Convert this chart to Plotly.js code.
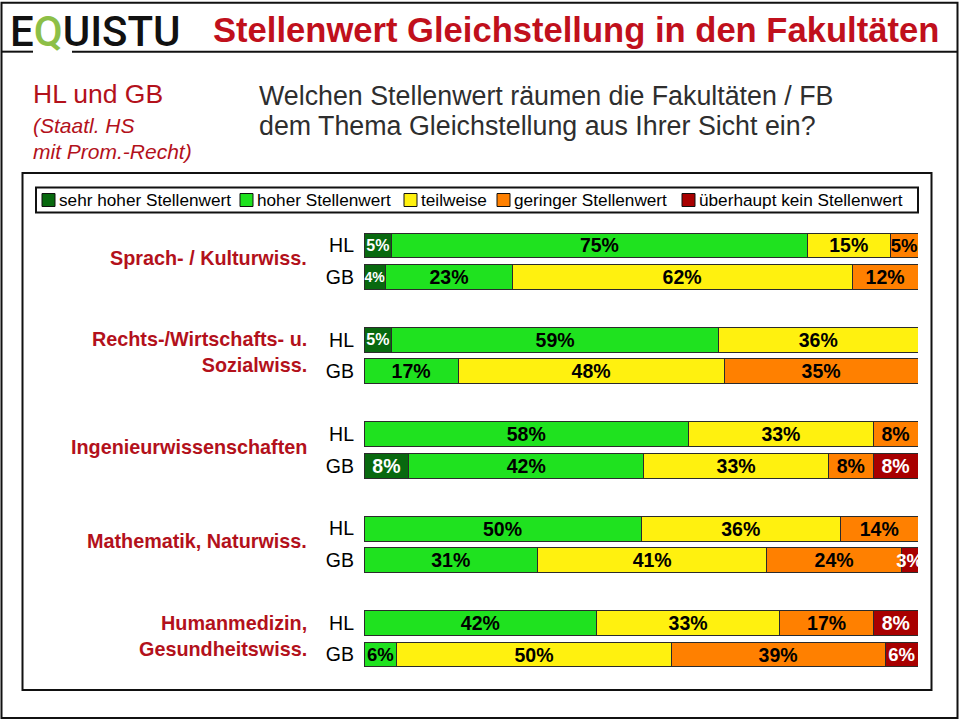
<!DOCTYPE html>
<html><head><meta charset="utf-8">
<script src="https://cdn.plot.ly/plotly-3.0.1.min.js"></script>
<style>html,body{margin:0;padding:0;background:#fff}#chart{width:960px;height:721px}</style>
</head><body><div id="chart"></div>
<script>
// ---------- data ----------
const faculties = ["Sprach- / Kulturwiss.", "Rechts-/Wirtschafts- u.<br>Sozialwiss.", "Ingenieurwissenschaften", "Mathematik, Naturwiss.", "Humanmedizin,<br>Gesundheitswiss."];
const groups = ["HL", "GB"];
const seriesNames = ["sehr hoher Stellenwert", "hoher Stellenwert", "teilweise", "geringer Stellenwert", "überhaupt kein Stellenwert"];
// order of rows: faculty 1 HL, faculty 1 GB, faculty 2 HL, ...
const sehrHoch  = [5, 4,   5, 0,   0, 8,   0, 0,   0, 0];
const hoch      = [75, 23, 59, 17, 58, 42, 50, 31, 42, 6];
const teilweise = [15, 62, 36, 48, 33, 33, 36, 41, 33, 50];
const gering    = [5, 12,  0, 35,  8, 8,  14, 24, 17, 39];
const keiner    = [0, 0,   0, 0,   0, 8,   0, 3,   8, 6];

// ---------- style ----------
const colors = ["#08690f", "#1fe21f", "#fff10f", "#ff8000", "#a80000"];
const textColors = ["#ffffff", "#000000", "#000000", "#000000", "#ffffff"];
const red = "#b3111b";
const FONT = "Liberation Sans, Arial, Helvetica, sans-serif";

const W = 960, H = 721;
const ml = 364, mr = 42, mt = 213.5, mb = 35;
const pw = W - ml - mr, ph = H - mt - mb;
const px = x => (x - ml) / pw;
const py = y => 1 - (y - mt) / ph;

const nRows = hoch.length;
const rowPos = [];
const rowLab = [];
for (let i = 0; i < nRows; i++) {
  rowPos.push(Math.floor(i / 2) * 3 + (i % 2));
  rowLab.push(groups[i % 2]);
}

const allSeries = [sehrHoch, hoch, teilweise, gering, keiner];
const traces = allSeries.map((vals, k) => ({
  type: "bar",
  orientation: "h",
  name: seriesNames[k],
  x: vals,
  y: rowPos,
  text: vals.map(v => v ? v + "%" : ""),
  textposition: "inside",
  insidetextanchor: "middle",
  constraintext: "none",
  textangle: 0,
  textfont: {
    family: FONT,
    color: textColors[k],
    size: vals.map(v => (k === 0 && v <= 5) ? (v < 5 ? 14 : 16) : (v <= 6 ? 18.5 : 19.5)),
    weight: "bold"
  },
  marker: { color: colors[k], line: { color: "#2b2b2b", width: 1 } },
  showlegend: false,
  hovertemplate: "%{text}<extra>" + seriesNames[k] + "</extra>"
}));

const shapes = [];
const annotations = [];

// frames
shapes.push({ type: "rect", xref: "paper", yref: "paper", x0: px(1.5), x1: px(957.5), y0: py(2), y1: py(718), line: { color: "#111", width: 2 } });
shapes.push({ type: "line", xref: "paper", yref: "paper", x0: px(1.5), x1: px(33), y0: py(51), y1: py(51), line: { color: "#111", width: 2 } });
shapes.push({ type: "line", xref: "paper", yref: "paper", x0: px(72), x1: px(957.5), y0: py(51), y1: py(51), line: { color: "#111", width: 2 } });
shapes.push({ type: "rect", xref: "paper", yref: "paper", x0: px(22.5), x1: px(931.5), y0: py(172.5), y1: py(690), line: { color: "#111", width: 2 } });
shapes.push({ type: "rect", xref: "paper", yref: "paper", x0: px(36), x1: px(918), y0: py(187), y1: py(212), line: { color: "#111", width: 2 } });

// legend (custom, in a box)
const legX = [42, 240, 404, 497, 682];
seriesNames.forEach((nm, k) => {
  shapes.push({ type: "rect", xref: "paper", yref: "paper", x0: px(legX[k]), x1: px(legX[k] + 13), y0: py(193), y1: py(206),
    fillcolor: colors[k], line: { color: "#111", width: 1 } });
  annotations.push({ xref: "paper", yref: "paper", x: px(legX[k] + 15), y: py(199.5), xanchor: "left", yanchor: "middle",
    text: nm, showarrow: false, font: { family: FONT, size: 17.2, color: "#000" } });
});

// logo
annotations.push({ xref: "paper", yref: "paper", x: px(8), y: py(31), xanchor: "left", yanchor: "middle",
  text: "E<span style='color:#8dbf47'>Q</span>UISTU", showarrow: false,
  font: { family: "Roboto, Lato, Liberation Sans, sans-serif", size: 42, color: "#111", weight: 500 } });
// title
annotations.push({ xref: "paper", yref: "paper", x: px(211), y: py(29), xanchor: "left", yanchor: "middle",
  text: "Stellenwert Gleichstellung in den Fakultäten", showarrow: false,
  font: { family: FONT, size: 34.6, color: "#c0101c", weight: "bold" } });
// subtitle left
annotations.push({ xref: "paper", yref: "paper", x: px(31), y: py(93), xanchor: "left", yanchor: "middle",
  text: "HL und GB", showarrow: false, font: { family: FONT, size: 26.5, color: red } });
annotations.push({ xref: "paper", yref: "paper", x: px(31), y: py(125), xanchor: "left", yanchor: "middle",
  text: "<i>(Staatl. HS</i>", showarrow: false, align: "left",
  font: { family: FONT, size: 21, color: red } });
annotations.push({ xref: "paper", yref: "paper", x: px(31), y: py(151), xanchor: "left", yanchor: "middle",
  text: "<i>mit Prom.-Recht)</i>", showarrow: false, align: "left",
  font: { family: FONT, size: 21, color: red } });
// question
annotations.push({ xref: "paper", yref: "paper", x: px(257), y: py(95), xanchor: "left", yanchor: "middle",
  text: "Welchen Stellenwert räumen die Fakultäten / FB", showarrow: false, align: "left",
  font: { family: FONT, size: 26.8, color: "#2e2e2e" } });
annotations.push({ xref: "paper", yref: "paper", x: px(257), y: py(125), xanchor: "left", yanchor: "middle",
  text: "dem Thema Gleichstellung aus Ihrer Sicht ein?", showarrow: false, align: "left",
  font: { family: FONT, size: 26.8, color: "#2e2e2e" } });

// faculty labels
faculties.forEach((f, g) => {
  annotations.push({ xref: "paper", yref: "y", x: px(309), y: g * 3 + 0.4, xanchor: "right", yanchor: "middle",
    text: f, showarrow: false, align: "right",
    font: { family: FONT, size: 19.8, color: red, weight: "bold" } });
});

const layout = {
  width: W, height: H,
  margin: { l: ml, r: mr, t: mt, b: mb, pad: 0 },
  paper_bgcolor: "#ffffff", plot_bgcolor: "#ffffff",
  barmode: "stack", barnorm: "percent", bargap: 0.21,
  showlegend: false,
  xaxis: { range: [0, 100], visible: false, fixedrange: true },
  yaxis: { range: [14, -1], autorange: false, tickmode: "array", tickvals: rowPos, ticktext: rowLab,
    showgrid: false, zeroline: false, showline: false, ticks: "", ticklabelstandoff: 9,
    tickfont: { family: FONT, size: 19.5, color: "#000" }, fixedrange: true },
  shapes: shapes,
  annotations: annotations,
  font: { family: FONT }
};

Plotly.newPlot("chart", traces, layout, { displayModeBar: false, staticPlot: true });
</script>
</body></html>
